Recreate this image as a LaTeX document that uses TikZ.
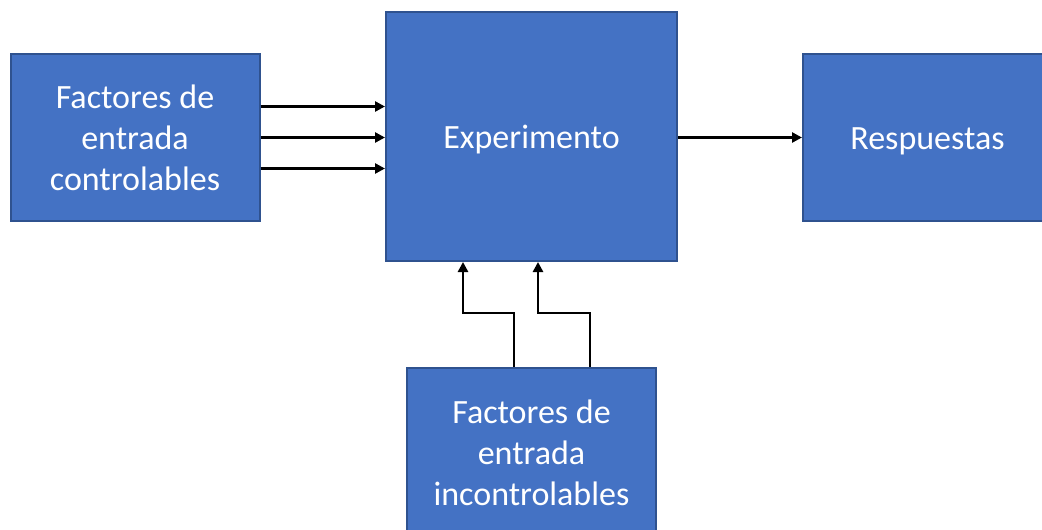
\documentclass[tikz,border=0pt]{standalone}
\usepackage{fontspec}
\setmainfont{Carlito}
\usetikzlibrary{positioning}
\usetikzlibrary{arrows.meta}
\definecolor{cajaazul}{HTML}{4472C4}
\definecolor{bordeazul}{HTML}{2F528F}
\tikzset{
  caja/.style={draw=bordeazul, line width=2pt, fill=cajaazul, text=white,
    align=center, inner sep=0pt, minimum width=249pt, minimum height=167pt,
    font=\fontsize{34}{41}\selectfont},
  unalinea/.style={text height=30pt, text depth=7pt},
  flecha/.style={line width=2.6pt, -{Triangle[length=10pt,width=10pt]}}
}

\begin{document}
\begin{tikzpicture}[x=1pt,y=-1pt]
\useasboundingbox (0,0) rectangle (1042,530);
\clip (0,0) rectangle (1042,530);

\node[caja] (ctrl) at (135,137.5) {Factores de\\entrada\\controlables};
\node[caja, unalinea, minimum width=291pt, minimum height=249pt] (exp) at (531.5,136.5) {Experimento};
\node[caja, unalinea] (resp) at (927.5,137.5) {Respuestas};
\node[caja, minimum height=170pt] (incon) at (531.5,453) {Factores de\\entrada\\incontrolables};

% entradas controlables
\foreach \dy in {31,0,-31}
  \draw[flecha] ([yshift=\dy pt]ctrl.east) -- ([yshift=\dy pt]ctrl.east -| exp.west);

\draw[flecha] (exp.east |- resp.west) -- (resp.west);

% entradas incontrolables
\draw[flecha] ([xshift=-17.5pt]incon.north) -- ++(0,-54) -| ([xshift=-68.5pt]exp.south);
\draw[flecha] ([xshift=58.5pt]incon.north) -- ++(0,-54) -| ([xshift=6.5pt]exp.south);
\end{tikzpicture}
\end{document}
